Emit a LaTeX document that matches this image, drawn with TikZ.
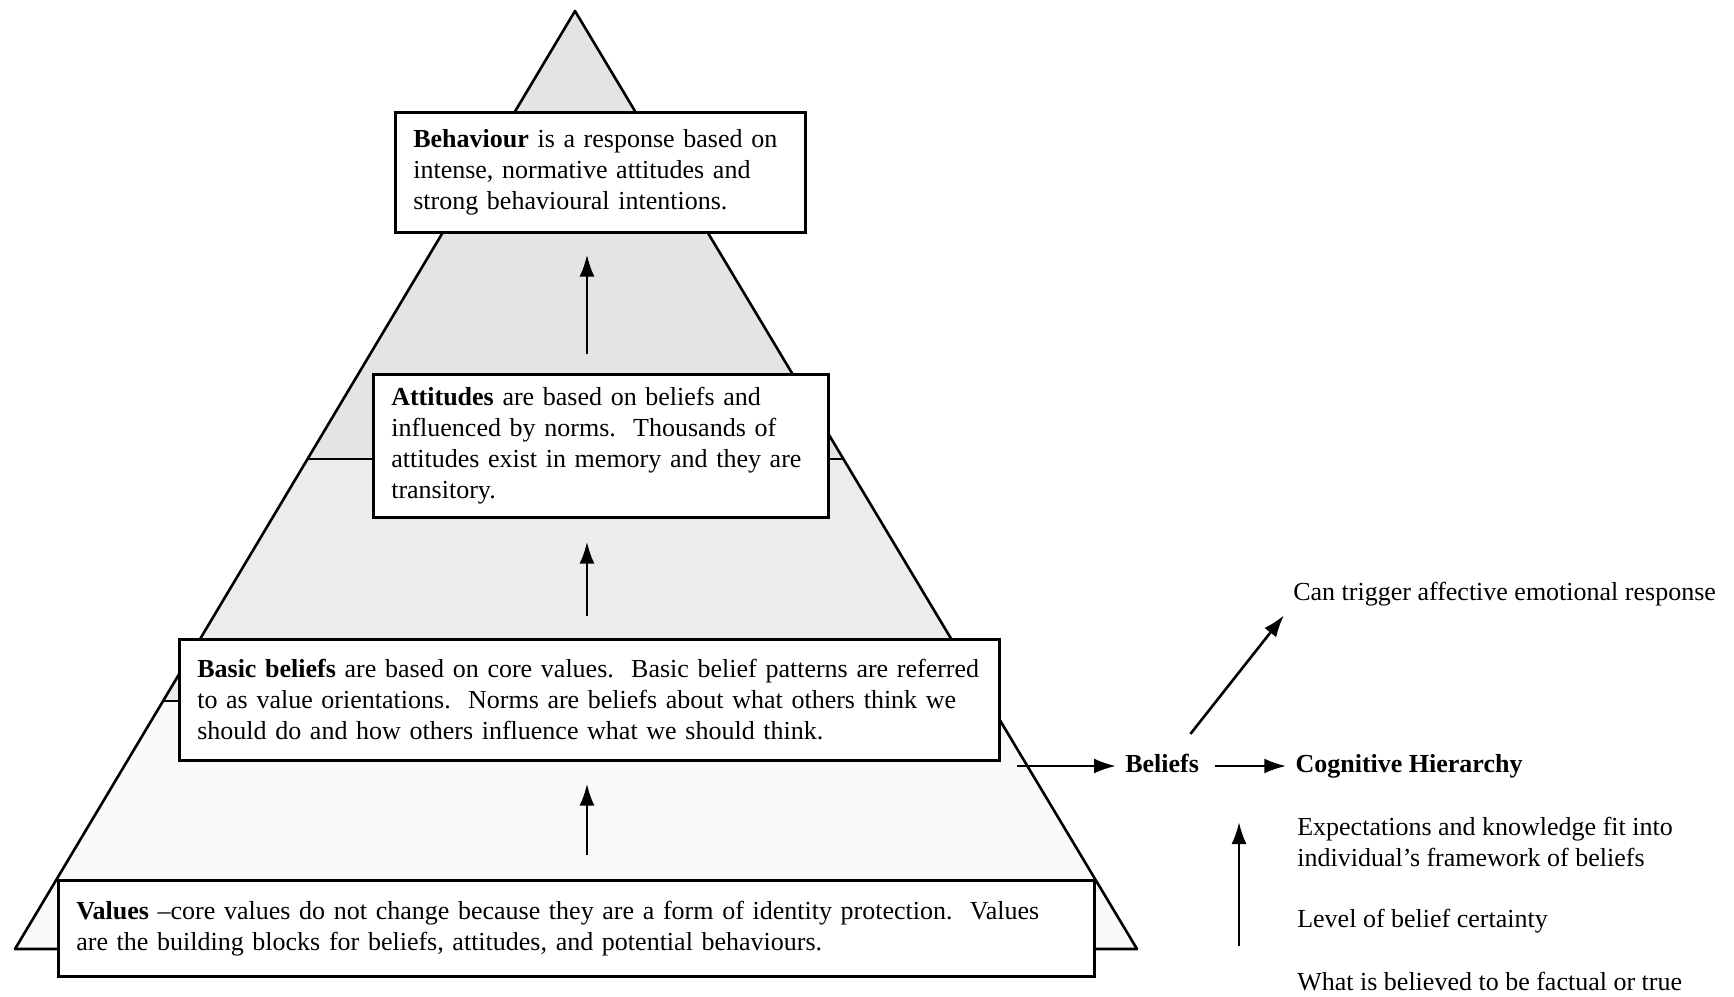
\documentclass[tikz,border=0pt]{standalone}
\usepackage{fontspec}
\setmainfont{Liberation Serif}
\usetikzlibrary{arrows.meta,positioning}

\newcommand{\diagfont}{\fontsize{26}{31}\selectfont}

\tikzset{
  layerbox/.style={draw, fill=white, line width=2.6pt, anchor=north west,
    align=left, inner xsep=18pt, inner ysep=6pt, font=\diagfont},
  sidenote/.style={anchor=west, align=left, inner sep=8pt, font=\diagfont},
  sidehead/.style={sidenote, font=\diagfont\bfseries,
    text height=17pt, text depth=5pt},
}

\begin{document}
\begin{tikzpicture}[x=1pt, y=-1pt, line width=2.6pt,
        >={Latex[length=22pt,width=15pt]}]

  \useasboundingbox (0,0) rectangle (1734,996);

  % pyramid
  \coordinate (apex) at (575,11);
  \coordinate (bl) at (15,949);
  \coordinate (br) at (1137,949);
  \coordinate (l1) at (307.8,459);
  \coordinate (r1) at (843.4,459);
  \coordinate (l2) at (163.4,701);
  \coordinate (r2) at (988.4,701);

  \fill[gray!4]  (l2) -- (r2) -- (br) -- (bl) -- cycle;
  \fill[gray!15] (l1) -- (r1) -- (r2) -- (l2) -- cycle;
  \fill[gray!21] (apex) -- (r1) -- (l1) -- cycle;
  \draw[line join=round] (apex) -- (br) -- (bl) -- cycle;
  \draw (l1) -- (r1);
  \draw (l2) -- (r2);

  % layers
  \node[layerbox, text width=374pt, minimum height=120pt] (behaviour) at (394,111)
    {\textbf{Behaviour} is a response based on\\
     intense, normative attitudes and\\
     strong behavioural intentions.};
  \node[layerbox, text width=419pt, minimum height=143pt] (attitudes) at (372,373)
    {\textbf{Attitudes} are based on beliefs and\\
     influenced by norms.\ \ Thousands of\\
     attitudes exist in memory and they are\\
     transitory.};
  \node[layerbox, text width=784pt, minimum height=121pt] (basic) at (178,638)
    {\textbf{Basic beliefs} are based on core values.\ \ Basic belief patterns are referred\\
     to as value orientations.\ \ Norms are beliefs about what others think we\\
     should do and how others influence what we should think.};
  \node[layerbox, text width=1000pt, minimum height=96pt] (values) at (57,879)
    {\textbf{Values} --core values do not change because they are a form of identity protection.\ \ Values\\
     are the building blocks for beliefs, attitudes, and potential behaviours.};

  \coordinate (axis) at (587,0);
  \draw[->, shorten <=19pt, shorten >=21pt] (attitudes.north -| axis) -- (behaviour.south -| axis);
  \draw[->, shorten <=22pt, shorten >=23pt] (basic.north -| axis) -- (attitudes.south -| axis);
  \draw[->, shorten <=24pt, shorten >=22pt] (values.north -| axis) -- (basic.south -| axis);

  % cognitive hierarchy
  \node[sidehead] (beliefs) at (1116,766) {Beliefs};
  \node[sidehead, right=78pt of beliefs] (cognitive) {Cognitive Hierarchy};
  \node[sidenote] (trigger) at (1284,594) {Can trigger affective emotional response};
  \node[sidenote] (expect) at (1288,842)
    {Expectations and knowledge fit into\\ individual's framework of beliefs};
  \node[sidenote] (level) at (1288,921) {Level of belief certainty};
  \node[sidenote] (factual) at (1288,982) {What is believed to be factual or true};

  \coordinate (feed) at (1017,766);
  \coordinate (scalelow) at (1239,946);
  \coordinate (scalehigh) at (1239,822);

  \draw[->] (feed) -- (beliefs.west);
  \draw[->, shorten <=7pt] (beliefs) -- (cognitive);
  \draw[->, shorten <=15pt] ([xshift=19pt]beliefs.north) -- (trigger.south west);
  \draw[->] (scalelow) -- (scalehigh);

\end{tikzpicture}
\end{document}
